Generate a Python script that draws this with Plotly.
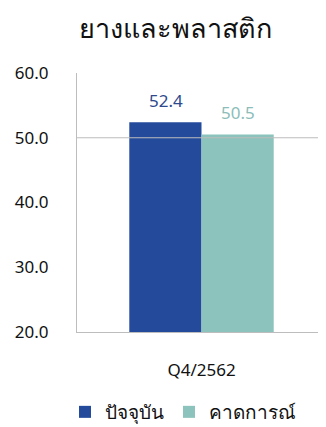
import plotly.graph_objects as go

# data
categories = ['Q4/2562']
current_vals = [52.4]
forecast_vals = [50.5]
series_names = ['ปัจจุบัน', 'คาดการณ์']
y_ticks = [20, 30, 40, 50, 60]
ref_value = 50

blue = '#244A9B'
teal = '#8CC3BD'
label_colors = ['#2E4A8C', '#8CBDB9']

# หน้า html มี margin ของ body 8px จึงลดขนาดรูปลง
W, H = 318, 419

fig = go.Figure()

fig.add_trace(go.Bar(
    x=categories, y=current_vals, name=series_names[0],
    marker=dict(color=blue, line=dict(width=0)),
))
fig.add_trace(go.Bar(
    x=categories, y=forecast_vals, name=series_names[1],
    marker=dict(color=teal, line=dict(width=0)),
))

# ป้ายค่าเหนือแท่ง
for vals, col, shift in [(current_vals, label_colors[0], -36), (forecast_vals, label_colors[1], 36)]:
    for c, v in zip(categories, vals):
        fig.add_annotation(x=c, y=v, text=f'{v:.1f}', showarrow=False,
                           xshift=shift, yshift=22, yanchor='middle',
                           font=dict(size=17, color=col))

# เส้นอ้างอิงที่ 50
fig.add_shape(type='line', xref='paper', yref='y', x0=0, x1=1,
              y0=ref_value, y1=ref_value, layer='above',
              line=dict(color='#BDBDBD', width=1.2))

fig.update_layout(
    width=W, height=H,
    margin=dict(l=69, r=0, t=65, b=95, autoexpand=False),
    paper_bgcolor='white', plot_bgcolor='white',
    font=dict(family='Noto Sans, sans-serif', color='#111111', size=17),
    title=dict(text='ยางและพลาสติก', x=167 / W, xanchor='center', xref='container',
               y=1 - 21 / H, yanchor='middle', yref='container',
               font=dict(size=27, color='#111111')),
    barmode='group', bargap=0.42, bargroupgap=0,
    showlegend=True,
    legend=dict(orientation='h', xref='container', x=175 / W, xanchor='center',
                yref='container', y=1 - 404 / H, yanchor='middle',
                font=dict(size=19), itemwidth=30, traceorder='normal'),
    xaxis=dict(showline=True, linecolor='#BDBDBD', linewidth=1.2, ticks='',
               tickfont=dict(size=17), ticklabelstandoff=22),
    yaxis=dict(range=[20, 60], tickvals=y_ticks, ticktext=[f'{t:.1f}' for t in y_ticks],
               showgrid=False, zeroline=False, showline=True, linecolor='#BDBDBD',
               linewidth=1.2, tickfont=dict(size=17), ticklabelstandoff=24),
)

fig.write_html('out.html')
